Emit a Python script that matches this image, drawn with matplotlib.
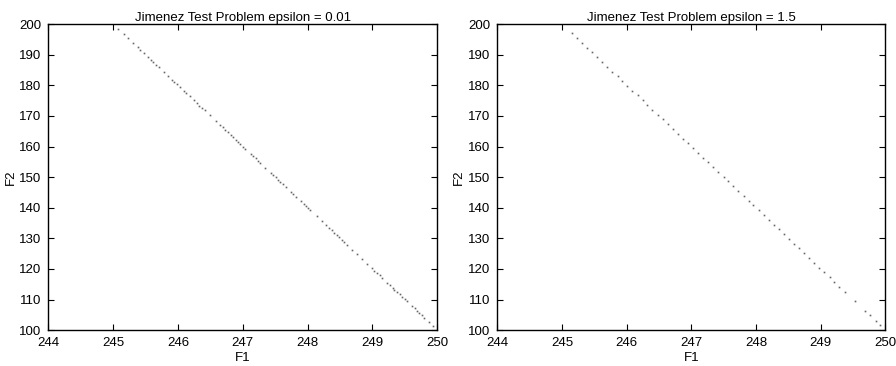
import matplotlib
matplotlib.use('Agg')
import matplotlib.pyplot as plt

plt.rcParams['font.family'] = ['Liberation Sans', 'DejaVu Sans']

# Pareto front points, epsilon = 0.01
f1_small = [245.08, 245.16, 245.23, 245.31, 245.38, 245.42, 245.47, 245.54, 245.59, 245.62,
            245.66, 245.71, 245.78, 245.85, 245.91, 245.94, 245.98, 246.03, 246.10, 246.13,
            246.18, 246.25, 246.29, 246.33, 246.37, 246.41, 246.49, 246.58, 246.65, 246.69,
            246.73, 246.77, 246.81, 246.85, 246.89, 246.93, 246.96, 247.01, 247.04, 247.12,
            247.16, 247.20, 247.24, 247.27, 247.35, 247.43, 247.46, 247.51, 247.55, 247.58,
            247.62, 247.67, 247.74, 247.78, 247.82, 247.90, 247.94, 247.98, 248.01, 248.04,
            248.14, 248.22, 248.29, 248.33, 248.37, 248.41, 248.45, 248.49, 248.53, 248.56,
            248.61, 248.69, 248.76, 248.84, 248.92, 248.99, 249.03, 249.07, 249.11, 249.15,
            249.23, 249.27, 249.31, 249.34, 249.38, 249.42, 249.46, 249.50, 249.53, 249.61,
            249.65, 249.69, 249.72, 249.76, 249.80, 249.87, 249.94]
f2_small = [198.4, 196.8, 195.4, 193.9, 192.4, 191.6, 190.6, 189.2, 188.3, 187.6,
            186.8, 185.9, 184.4, 183.0, 181.9, 181.2, 180.5, 179.5, 178.1, 177.4,
            176.5, 175.1, 174.3, 173.4, 172.6, 171.8, 170.3, 168.5, 167.1, 166.3,
            165.4, 164.6, 163.8, 163.1, 162.3, 161.5, 160.8, 159.9, 159.2, 157.6,
            156.9, 156.1, 155.3, 154.6, 153.1, 151.5, 150.8, 149.9, 149.1, 148.4,
            147.6, 146.7, 145.2, 144.4, 143.6, 142.1, 141.3, 140.5, 139.8, 139.2,
            137.3, 135.7, 134.2, 133.4, 132.6, 131.8, 131.1, 130.3, 129.5, 128.8,
            127.9, 126.3, 124.8, 123.2, 121.7, 120.2, 119.4, 118.6, 117.9, 117.0,
            115.5, 114.7, 113.9, 113.2, 112.4, 111.7, 110.9, 110.1, 109.4, 107.8,
            107.1, 106.3, 105.6, 104.8, 104.0, 102.6, 101.3]

# epsilon = 1.5
f1_large = [245.15, 245.23, 245.31, 245.39, 245.46, 245.54, 245.62, 245.70, 245.78, 245.86,
            245.93, 246.01, 246.09, 246.17, 246.25, 246.32, 246.40, 246.48, 246.56, 246.64,
            246.71, 246.79, 246.87, 246.95, 247.03, 247.11, 247.18, 247.26, 247.34, 247.42,
            247.50, 247.57, 247.65, 247.73, 247.81, 247.89, 247.96, 248.04, 248.12, 248.20,
            248.28, 248.36, 248.43, 248.51, 248.59, 248.67, 248.75, 248.82, 248.90, 248.98,
            249.06, 249.14, 249.21, 249.29, 249.37, 249.53, 249.68, 249.76, 249.85, 249.92]
f2_large = [197.0, 195.4, 193.9, 192.3, 190.8, 189.2, 187.6, 186.1, 184.5, 182.9,
            181.4, 179.8, 178.3, 176.7, 175.1, 173.6, 172.0, 170.4, 168.9, 167.3,
            165.8, 164.2, 162.6, 161.1, 159.5, 157.9, 156.4, 154.8, 153.3, 151.7,
            150.1, 148.6, 147.0, 145.4, 143.9, 142.3, 140.8, 139.2, 137.6, 136.1,
            134.5, 132.9, 131.4, 129.8, 128.3, 126.7, 125.1, 123.6, 122.0, 120.4,
            118.9, 117.3, 115.8, 114.2, 112.6, 109.5, 106.4, 104.9, 103.0, 101.7]

fig = plt.figure(figsize=(8.96, 3.66), dpi=100)
ax1 = fig.add_axes([0.054, 0.098, 0.434, 0.836])
ax2 = fig.add_axes([0.555, 0.098, 0.433, 0.836])

for ax, x, y, title in [(ax1, f1_small, f2_small, 'Jimenez Test Problem epsilon = 0.01'),
                        (ax2, f1_large, f2_large, 'Jimenez Test Problem epsilon = 1.5')]:
    ax.plot(x, y, linestyle='none', marker='s', markersize=1.2, color='#666666', markeredgewidth=0)
    ax.set_xlim(244, 250)
    ax.set_ylim(100, 200)
    ax.set_xticks(range(244, 251))
    ax.set_yticks(range(100, 201, 10))
    ax.tick_params(direction='in', top=True, right=True, length=4, width=0.8, labelsize=9.5, pad=5)
    for s in ax.spines.values():
        s.set_linewidth(1.0)
    ax.set_xlabel('F1', fontsize=9.5, labelpad=2)
    ax.set_ylabel('F2', fontsize=9.5, labelpad=2)
    ax.set_title(title, fontsize=9.5, pad=2.5)

fig.savefig('out.png', dpi=100)
